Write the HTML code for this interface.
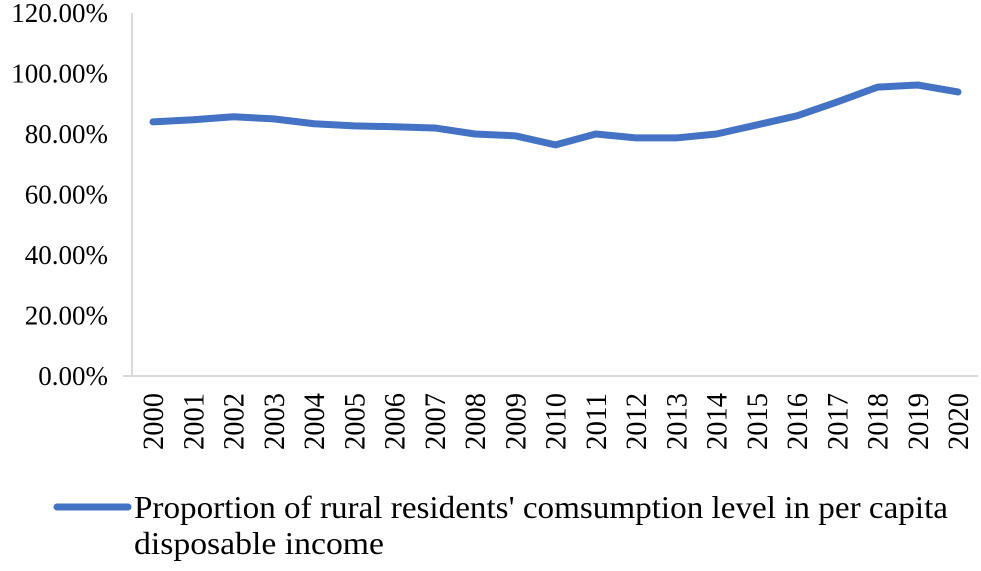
<!DOCTYPE html>
<html><head><meta charset="utf-8"><style>
body{margin:0;background:#fff;}
svg text{font-family:"Liberation Serif",serif;fill:#000;}
</style></head><body>
<svg width="981" height="566">
<g id="yticks"></g>
<line x1="132" y1="13" x2="132" y2="376" stroke="#d9d9d9" stroke-width="2"/>
<line x1="123" y1="376" x2="978" y2="376" stroke="#d9d9d9" stroke-width="2"/>
<g id="xlabels"></g>
<path id="series" fill="none" stroke="#4472c4" stroke-width="7" stroke-linejoin="round" stroke-linecap="round"/>
<line x1="57" y1="507" x2="128" y2="507" stroke="#4472c4" stroke-width="7" stroke-linecap="round"/>
<text x="134" y="518" font-size="32" textLength="814" lengthAdjust="spacingAndGlyphs">Proportion of rural residents' comsumption level in per capita</text>
<text x="134" y="554" font-size="32" textLength="250" lengthAdjust="spacingAndGlyphs">disposable income</text>
</svg>
<script>
const years=["2000","2001","2002","2003","2004","2005","2006","2007","2008","2009","2010","2011","2012","2013","2014","2015","2016","2017","2018","2019","2020"];
const values=[84.0,84.7,85.7,85.0,83.4,82.7,82.4,82.0,80.0,79.4,76.4,80.0,78.7,78.7,80.0,83.0,86.0,90.6,95.5,96.2,93.9];
const yTicks=[0,20,40,60,80,100,120];
const ns="http://www.w3.org/2000/svg";
function y(v){return 376-v*(363/120);}
function x(i){return 153+i*40.25;}
const yt=document.getElementById('yticks');
yTicks.forEach(t=>{const e=document.createElementNS(ns,'text');
e.setAttribute('x','108');e.setAttribute('y',y(t)+9);e.setAttribute('text-anchor','end');e.setAttribute('font-size','27');
e.textContent=t.toFixed(2)+'%';


yt.appendChild(e);});
const xl=document.getElementById('xlabels');
years.forEach((yr,i)=>{const e=document.createElementNS(ns,'text');
e.setAttribute('transform','translate('+(x(i)+10)+',393) rotate(-90)');e.setAttribute('text-anchor','end');e.setAttribute('font-size','30');
e.setAttribute('textLength','57');e.setAttribute('lengthAdjust','spacingAndGlyphs');
e.textContent=yr;


xl.appendChild(e);});
document.getElementById('series').setAttribute('d',values.map((v,i)=>(i?'L':'M')+x(i)+','+y(v)).join(' '));
</script>
</body></html>
